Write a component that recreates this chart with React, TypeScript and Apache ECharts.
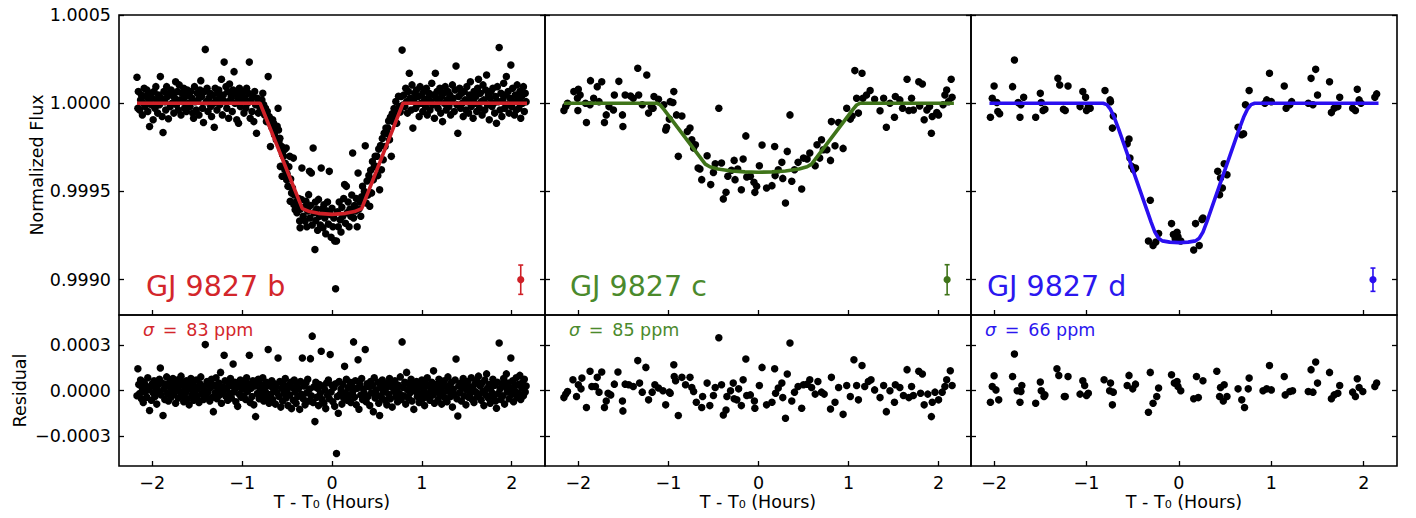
import React, { useEffect, useRef } from 'react';
import * as echarts from 'echarts';

// ---------- data (time in hours from mid-transit, flux / residual offsets in ppm) ----------
const planetNames = ['GJ 9827 b', 'GJ 9827 c', 'GJ 9827 d'];
const sigmaPpm = [83, 85, 66];
const errBarX = [2.1, 2.095, 2.1];
const errBarFlux = 0.999;
const xTicks = [-2, -1, 0, 1, 2];
const fluxTicks = [0.999, 0.9995, 1.0, 1.0005];
const residTicks = [-0.0003, 0, 0.0003];

const bFluxPpm = [
  [-2.17,147],[-2.16,-28],[-2.155,66],[-2.14,-38],[-2.13,19],[-2.12,47],[-2.11,-66],[-2.10,0],[-2.09,85],[-2.08,-19],[-2.07,38],[-2.06,75],[-2.05,-47],[-2.04,9],[-2.03,-132],[-2.02,56],[-2.01,-9],[-2.00,28],[-1.99,-94],[-1.98,66],[-1.97,-28],[-1.96,94],[-1.95,19],[-1.94,-56],[-1.93,47],[-1.92,-9],[-1.91,151],[-1.90,28],[-1.89,-75],[-1.88,-166],[-1.87,66],[-1.86,9],[-1.85,-38],[-1.84,94],[-1.83,38],[-1.82,-88],[-1.81,56],[-1.80,-19],[-1.79,75],[-1.78,0],[-1.77,47],[-1.76,-56],[-1.75,28],[-1.74,122],[-1.73,-9],[-1.72,66],[-1.71,-38],[-1.70,104],[-1.69,19],[-1.68,-66],[-1.67,56],[-1.66,9],[-1.65,85],[-1.64,-28],[-1.63,38],[-1.62,-47],[-1.61,75],[-1.60,0],[-1.59,47],[-1.58,-19],[-1.57,66],[-1.56,28],[-1.55,-56],[-1.54,-85],[-1.53,94],[-1.52,9],[-1.51,-38],[-1.50,56],[-1.49,19],[-1.48,-66],[-1.47,75],[-1.46,128],[-1.45,38],[-1.44,-28],[-1.43,-109],[-1.42,66],[-1.41,305],[-1.40,9],[-1.39,85],[-1.38,-47],[-1.37,28],[-1.36,56],[-1.35,-19],[-1.34,-75],[-1.33,47],[-1.32,0],[-1.31,-136],[-1.30,85],[-1.29,19],[-1.28,-38],[-1.27,56],[-1.26,75],[-1.25,-9],[-1.24,28],[-1.23,136],[-1.22,-66],[-1.21,47],[-1.20,233],[-1.19,9],[-1.18,94],[-1.17,-28],[-1.16,66],[-1.15,-85],[-1.14,109],[-1.13,19],[-1.12,38],[-1.11,-47],[-1.10,75],[-1.09,179],[-1.08,0],[-1.07,56],[-1.06,-94],[-1.05,28],[-1.04,-113],[-1.03,85],[-1.02,-19],[-1.01,47],[-1.00,9],[-0.99,66],[-0.98,-56],[-0.97,28],[-0.96,-28],[-0.95,85],[-0.94,0],[-0.93,56],[-0.92,233],[-0.91,-85],[-0.90,19],[-0.89,-47],[-0.88,38],[-0.87,-104],[-0.86,66],[-0.85,-9],[-0.84,-170],[-0.83,28],[-0.82,-56],[-0.81,9],[-0.80,-28],
  [-0.79,-47],[-0.78,19],[-0.77,56],[-0.76,-9],[-0.75,-66],[-0.74,-28],[-0.73,-104],[-0.72,-47],[-0.71,151],[-0.70,-75],[-0.69,-85],[-0.685,-245],[-0.68,-120],[-0.67,-136],[-0.66,-94],[-0.65,-113],[-0.64,-179],[-0.63,-150],[-0.62,-207],[-0.61,-130],[-0.60,-28],[-0.595,-151],[-0.59,-220],[-0.58,-198],[-0.575,-358],[-0.57,-260],[-0.56,-245],[-0.555,-414],[-0.55,-290],[-0.54,-301],[-0.53,-264],[-0.525,-377],[-0.52,-340],[-0.51,-254],[-0.505,-433],[-0.50,-400],[-0.49,-471],[-0.48,-360],[-0.47,-301],[-0.465,-555],[-0.46,-430],[-0.45,-508],[-0.44,-480],[-0.43,-311],[-0.425,-574],[-0.42,-520],[-0.41,-603],[-0.40,-560],[-0.39,-621],[-0.38,-590],[-0.37,-540],[-0.36,-668],[-0.355,-706],[-0.35,-600],[-0.34,-546],[-0.335,-367],
  [-0.32,-640],[-0.31,-590],[-0.30,-668],[-0.29,-555],[-0.28,-700],[-0.27,-610],[-0.26,-518],[-0.25,-386],[-0.245,-650],[-0.24,-580],[-0.23,-395],[-0.22,-690],[-0.21,-254],[-0.20,-620],[-0.19,-829],[-0.185,-560],[-0.18,-665],[-0.17,-600],[-0.16,-720],[-0.15,-545],[-0.14,-640],[-0.13,-690],[-0.12,-367],[-0.11,-600],[-0.10,-705],[-0.09,-575],[-0.08,-650],[-0.07,-740],[-0.06,-610],[-0.05,-560],[-0.04,-685],[-0.03,-386],[-0.02,-630],[-0.01,-760],[0.00,-595],[0.01,-700],[0.02,-650],[0.03,-780],[0.04,-1051],[0.05,-781],[0.06,-615],[0.07,-700],[0.08,-560],[0.09,-660],[0.10,-730],[0.11,-590],[0.12,-640],[0.13,-540],[0.14,-461],[0.15,-680],[0.16,-471],[0.17,-620],[0.18,-560],[0.19,-700],[0.20,-600],[0.21,-640],[0.22,-520],[0.23,-282],[0.24,-650],[0.25,-580],[0.26,-610],[0.27,-540],[0.28,-700],[0.29,-395],[0.30,-600],[0.31,-560],[0.32,-640],
  [0.33,-530],[0.34,-470],[0.35,-560],[0.36,-500],[0.37,-241],[0.38,-565],[0.39,-440],[0.40,-520],[0.41,-410],[0.42,-584],[0.43,-380],[0.44,-508],[0.45,-330],[0.46,-433],[0.47,-360],[0.48,-301],[0.49,-358],[0.50,-300],[0.51,-410],[0.52,-260],[0.53,-490],[0.54,-240],[0.55,-377],[0.56,-200],[0.57,-320],[0.58,-170],[0.59,-245],[0.60,-140],[0.61,-170],[0.62,-141],[0.63,-100],[0.64,-207],[0.65,-80],[0.66,-301],[0.67,-60],[0.68,-104],[0.69,-30],[0.70,-75],[0.71,10],[0.72,-113],[0.73,-56],[0.74,40],[0.75,-19],[0.76,-50],[0.77,38],[0.78,301],[0.79,-10],
  [0.80,47],[0.81,-19],[0.82,85],[0.83,9],[0.84,-56],[0.85,66],[0.86,170],[0.87,28],[0.88,-38],[0.89,104],[0.90,-141],[0.91,19],[0.92,56],[0.93,-28],[0.94,75],[0.95,-9],[0.96,38],[0.97,-75],[0.98,94],[0.99,0],[1.00,47],[1.01,-47],[1.02,66],[1.03,19],[1.04,-19],[1.05,85],[1.06,-66],[1.07,28],[1.08,56],[1.09,-38],[1.10,9],[1.11,113],[1.12,-9],[1.13,47],[1.14,-85],[1.15,170],[1.16,28],[1.17,66],[1.18,-28],[1.19,9],[1.20,85],[1.21,-56],[1.22,38],[1.23,-104],[1.24,56],[1.25,0],[1.26,94],[1.27,-38],[1.28,19],[1.29,66],[1.30,-19],[1.31,47],[1.32,-66],[1.33,9],[1.34,104],[1.35,28],[1.36,-47],[1.37,75],[1.38,211],[1.39,-9],[1.40,-170],[1.41,38],[1.42,85],[1.43,-28],[1.44,56],[1.45,0],[1.46,-75],[1.47,66],[1.48,19],[1.49,-38],[1.50,94],[1.51,9],[1.52,-56],[1.53,47],[1.54,122],[1.55,-19],[1.56,28],[1.57,-85],[1.58,66],[1.59,0],[1.60,38],[1.61,-47],[1.62,85],[1.63,136],[1.64,-28],[1.65,56],[1.66,9],[1.67,-66],[1.68,104],[1.69,19],[1.70,-38],[1.71,75],[1.72,160],[1.73,-9],[1.74,47],[1.75,-94],[1.76,28],[1.77,66],[1.78,-19],[1.79,85],[1.80,0],[1.81,-56],[1.82,38],[1.83,-113],[1.84,94],[1.85,9],[1.86,316],[1.87,-38],[1.88,56],[1.89,-75],[1.90,19],[1.91,113],[1.92,-28],[1.93,47],[1.94,151],[1.95,-9],[1.96,66],[1.97,-56],[1.98,28],[1.99,217],[2.00,-19],[2.01,85],[2.02,9],[2.03,-66],[2.04,47],[2.05,-38],[2.06,104],[2.07,19],[2.08,-28],[2.09,66],[2.10,-85],[2.11,38],[2.12,0],[2.13,94],[2.14,-47],[2.15,56],[2.16,9]
];

const bResidPpm = [
  [-2.17,-35],[-2.16,144],[-2.15,40],[-2.14,-20],[-2.13,70],[-2.12,-55],[-2.11,15],[-2.10,-80],[-2.09,55],[-2.08,-10],[-2.07,30],[-2.06,-45],[-2.05,85],[-2.04,5],[-2.03,-133],[-2.02,25],[-2.01,-65],[-2.00,45],[-1.99,-15],[-1.98,65],[-1.97,-40],[-1.96,20],[-1.95,-90],[-1.94,35],[-1.93,-5],[-1.92,75],[-1.91,149],[-1.90,-30],[-1.89,50],[-1.88,-166],[-1.87,10],[-1.86,-60],[-1.85,40],[-1.84,90],[-1.83,-20],[-1.82,-70],[-1.81,25],[-1.80,60],[-1.79,-45],[-1.78,5],[-1.77,80],[-1.76,-25],[-1.75,45],[-1.74,-85],[-1.73,15],[-1.72,70],[-1.71,-50],[-1.70,30],[-1.69,-10],[-1.68,95],[-1.67,-35],[-1.66,55],[-1.65,-75],[-1.64,20],[-1.63,-15],[-1.62,65],[-1.61,-55],[-1.60,35],[-1.59,-95],[-1.58,10],[-1.57,80],[-1.56,-30],[-1.55,50],[-1.54,-65],[-1.53,25],[-1.52,-5],[-1.51,70],[-1.50,-40],[-1.49,15],[-1.48,-80],[-1.47,45],[-1.46,90],[-1.45,-20],[-1.44,30],[-1.43,-60],[-1.42,5],[-1.41,304],[-1.40,-35],[-1.39,60],[-1.38,-10],[-1.37,40],[-1.36,-70],[-1.35,20],[-1.34,75],[-1.33,-45],[-1.32,-140],[-1.31,35],[-1.30,-15],[-1.29,85],[-1.28,-55],[-1.27,10],[-1.26,50],[-1.25,-30],[-1.24,120],[-1.23,-85],[-1.22,25],[-1.21,-5],[-1.20,233],[-1.19,65],[-1.18,-40],[-1.17,15],[-1.16,-65],[-1.15,45],[-1.14,-20],[-1.13,80],[-1.12,-50],[-1.11,30],[-1.10,175],[-1.09,-10],[-1.08,55],[-1.07,-75],[-1.06,20],[-1.05,-105],[-1.04,40],[-1.03,-25],[-1.02,70],[-1.01,-45],[-1.00,10],[-0.99,60],[-0.98,-35],[-0.97,25],[-0.96,-60],[-0.95,85],[-0.94,-5],[-0.93,45],[-0.92,233],[-0.91,-80],[-0.90,15],[-0.89,-40],[-0.88,65],[-0.87,-95],[-0.86,30],[-0.85,-173],[-0.84,50],[-0.83,-20],[-0.82,75],[-0.81,-55],[-0.80,5],[-0.79,40],[-0.78,-30],[-0.77,85],[-0.76,-70],[-0.75,20],[-0.74,-10],[-0.73,55],[-0.72,-45],[-0.71,271],[-0.70,-85],[-0.69,30],[-0.68,-25],[-0.67,65],[-0.66,-60],[-0.65,10],[-0.64,45],[-0.63,-90],[-0.62,25],[-0.61,-15],[-0.60,215],[-0.59,-40],[-0.58,60],[-0.57,-110],[-0.56,15],[-0.55,-70],[-0.54,40],[-0.53,-20],[-0.52,80],[-0.51,-50],[-0.50,5],[-0.49,-100],[-0.48,35],[-0.47,-30],[-0.46,55],[-0.45,-120],[-0.44,20],[-0.43,-65],[-0.42,70],[-0.41,-10],[-0.40,-85],[-0.39,45],[-0.38,-40],[-0.37,15],[-0.36,-125],[-0.35,60],[-0.34,-25],[-0.33,215],[-0.32,-55],[-0.31,30],[-0.30,-95],[-0.29,50],[-0.28,-15],[-0.27,75],[-0.26,-70],[-0.25,10],[-0.24,211],[-0.23,-35],[-0.22,360],[-0.21,-80],[-0.20,25],[-0.19,-206],[-0.18,55],[-0.17,-45],[-0.16,15],[-0.15,-100],[-0.14,40],[-0.13,-20],[-0.12,260],[-0.11,-60],[-0.10,30],[-0.09,-85],[-0.08,5],[-0.07,-120],[-0.06,50],[-0.05,-30],[-0.04,70],[-0.03,-55],[-0.02,238],[-0.01,-10],[0.00,35],[0.01,-75],[0.02,20],[0.03,-105],[0.04,45],[0.05,-417],[0.06,-40],[0.07,-151],[0.08,60],[0.09,-25],[0.10,10],[0.11,-90],[0.12,40],[0.13,-50],[0.14,160],[0.15,-15],[0.16,75],[0.17,-65],[0.18,20],[0.19,-35],[0.20,55],[0.21,-80],[0.22,30],[0.23,-10],[0.24,322],[0.25,-45],[0.26,65],[0.27,-95],[0.28,15],[0.29,204],[0.30,-124],[0.31,40],[0.32,-30],[0.33,80],[0.34,-60],[0.35,10],[0.36,-20],[0.37,271],[0.38,-75],[0.39,45],[0.40,-40],[0.41,25],[0.42,-100],[0.43,60],[0.44,-15],[0.45,35],[0.46,-140],[0.47,85],[0.48,-50],[0.49,5],[0.50,-30],[0.51,55],[0.52,-85],[0.53,-166],[0.54,20],[0.55,-45],[0.56,70],[0.57,-10],[0.58,40],[0.59,-65],[0.60,15],[0.61,-95],[0.62,50],[0.63,-25],[0.64,80],[0.65,-55],[0.66,25],[0.67,-110],[0.68,45],[0.69,-5],[0.70,65],[0.71,-40],[0.72,10],[0.73,-75],[0.74,35],[0.75,-20],[0.76,90],[0.77,-60],[0.78,322],[0.79,20],[0.80,-35],[0.81,55],[0.82,-90],[0.83,120],[0.84,5],[0.85,-50],[0.86,40],[0.87,-15],[0.88,75],[0.89,-70],[0.90,25],[0.91,-125],[0.92,45],[0.93,-5],[0.94,60],[0.95,-40],[0.96,15],[0.97,-80],[0.98,35],[0.99,-25],[1.00,70],[1.01,-55],[1.02,10],[1.03,-100],[1.04,50],[1.05,-20],[1.06,85],[1.07,-45],[1.08,30],[1.09,-65],[1.10,5],[1.11,55],[1.12,-30],[1.13,130],[1.14,-85],[1.15,20],[1.16,40],[1.17,-10],[1.18,-60],[1.19,75],[1.20,-35],[1.21,15],[1.22,-90],[1.23,45],[1.24,-15],[1.25,65],[1.26,-50],[1.27,25],[1.28,-75],[1.29,90],[1.30,-5],[1.31,35],[1.32,-40],[1.33,55],[1.34,-110],[1.35,10],[1.36,-25],[1.37,70],[1.38,209],[1.39,-55],[1.40,-169],[1.41,30],[1.42,-15],[1.43,50],[1.44,-70],[1.45,15],[1.46,80],[1.47,-35],[1.48,40],[1.49,-95],[1.50,5],[1.51,60],[1.52,-45],[1.53,25],[1.54,-20],[1.55,85],[1.56,-60],[1.57,10],[1.58,-80],[1.59,45],[1.60,-10],[1.61,65],[1.62,-40],[1.63,95],[1.64,-25],[1.65,30],[1.66,-65],[1.67,50],[1.68,-5],[1.69,-100],[1.70,70],[1.71,-30],[1.72,110],[1.73,15],[1.74,-50],[1.75,40],[1.76,-85],[1.77,20],[1.78,-15],[1.79,75],[1.80,-45],[1.81,35],[1.82,-70],[1.83,-118],[1.84,55],[1.85,-20],[1.86,315],[1.87,10],[1.88,-60],[1.89,45],[1.90,-35],[1.91,80],[1.92,-90],[1.93,25],[1.94,110],[1.95,-10],[1.96,50],[1.97,-55],[1.98,15],[1.99,215],[2.00,-25],[2.01,65],[2.02,-75],[2.03,30],[2.04,-5],[2.05,85],[2.06,-45],[2.07,40],[2.08,-20],[2.09,100],[2.10,-60],[2.11,20],[2.12,55],[2.13,-35],[2.14,75],[2.15,-10],[2.16,30]
];

const cFluxPpm = [
  [-2.16,-41],[-2.14,-19],[-2.12,0],[-2.05,66],[-2.0,79],[-2.01,28],[-2.005,-41],[-1.98,47],[-1.92,0],[-1.91,-109],[-1.87,-9],[-1.865,128],[-1.83,28],[-1.79,94],[-1.77,9],[-1.74,122],[-1.71,-109],[-1.69,-66],[-1.66,-19],[-1.61,-38],[-1.60,47],[-1.55,124],[-1.51,-66],[-1.505,-132],[-1.48,47],[-1.42,41],[-1.39,28],[-1.34,198],[-1.33,47],[-1.29,-9],[-1.24,160],[-1.22,-56],[-1.19,-19],[-1.17,-28],[-1.16,38],[-1.11,23],
  [-1.05,-9],[-1.02,-136],[-1.03,-151],[-0.98,9],[-0.99,-90],[-0.94,66],[-0.95,4],[-0.91,-66],[-0.89,-301],[-0.85,-72],[-0.79,-160],[-0.76,-141],[-0.74,-207],[-0.72,-254],[-0.70,-235],[-0.67,-367],[-0.65,-373],[-0.63,-433],[-0.57,-298],[-0.53,-461],[-0.50,-392],[-0.48,-343],
  [-0.44,-28],[-0.41,-339],[-0.39,-542],[-0.36,-505],[-0.34,-414],[-0.30,-380],[-0.27,-324],[-0.26,-433],[-0.23,-373],[-0.19,-490],[-0.17,-316],[-0.14,-185],[-0.13,-418],[-0.09,-414],[-0.05,-448],[-0.04,-505],[-0.02,-471],[0.01,-354],[0.04,-237],[0.09,-480],[0.15,-467],[0.18,-245],[0.185,-410],[0.22,-377],[0.26,-335],[0.27,-426],[0.30,-565],[0.32,-273],[0.35,-66],[0.37,-442],[0.40,-377],[0.44,-335],[0.48,-486],[0.50,-311],[0.54,-316],[0.57,-282],[0.63,-354],
  [0.65,-235],[0.68,-311],[0.70,-207],[0.72,-264],[0.76,-264],[0.80,-324],[0.81,-104],[0.85,-241],[0.89,-109],[0.94,-256],[0.98,-28],[1.02,-90],[1.04,-72],[1.07,185],[1.09,28],[1.11,-56],
  [1.15,170],[1.16,28],[1.20,47],[1.24,72],[1.29,23],[1.35,-43],[1.39,28],[1.42,-136],[1.46,0],[1.51,-79],[1.52,38],[1.57,19],[1.60,-28],[1.65,136],[1.67,-41],[1.70,28],[1.72,-38],[1.78,122],[1.82,109],[1.84,-94],[1.79,-15],[1.87,-38],[1.90,-19],[1.92,-170],[1.93,-75],[1.98,-53],[2.00,-66],[2.05,-9],[2.07,47],[2.09,75],[2.11,9],[2.14,136],[2.15,34]
];

const cResidPpm = [
  [-2.16,-47],[-2.14,-24],[-2.12,-7],[-2.06,71],[-2.02,-40],[-2.0,38],[-1.97,11],[-1.96,82],[-1.91,-113],[-1.87,127],[-1.85,27],[-1.81,27],[-1.79,87],[-1.77,-11],[-1.74,122],[-1.71,-113],[-1.69,-69],[-1.67,-18],[-1.64,-29],[-1.60,42],[-1.56,122],[-1.51,-69],[-1.505,-135],[-1.48,42],[-1.44,38],[-1.39,27],[-1.34,198],[-1.32,49],[-1.29,-11],[-1.25,153],[-1.22,-62],[-1.18,-11],[-1.15,38],[-1.11,16],[-1.06,-2],[-1.03,-95],[-0.99,-11],[-0.98,-18],[-0.94,171],[-0.935,93],[-0.92,64],[-0.89,-166],[-0.85,87],[-0.81,38],[-0.76,87],[-0.74,20],[-0.72,-7],[-0.69,-78],[-0.63,-113],[-0.62,-40],[-0.57,49],[-0.54,-100],[-0.50,-33],[-0.48,20],[-0.44,349],[-0.41,38],[-0.39,-162],[-0.36,-129],[-0.35,-40],[-0.31,-2],[-0.28,49],[-0.27,-55],[-0.24,-62],[-0.22,11],[-0.19,-100],[-0.17,71],[-0.14,209],[-0.13,-33],[-0.09,-29],[-0.045,-69],[-0.04,-118],[0.01,33],[0.04,153],[0.09,-95],[0.15,-78],[0.18,144],[0.19,-18],[0.22,16],[0.26,49],[0.27,-47],[0.30,-184],[0.32,109],[0.35,315],[0.37,-69],[0.40,-11],[0.44,27],[0.48,-118],[0.50,38],[0.54,42],[0.57,71],[0.59,20],[0.63,-24],[0.66,60],[0.70,-11],[0.73,-24],[0.80,-122],[0.81,87],[0.85,-78],[0.89,20],[0.94,-158],[0.98,33],[1.02,-40],[1.06,204],[1.09,33],[1.11,-62],[1.15,166],[1.18,27],[1.22,60],[1.25,71],[1.29,4],[1.35,-47],[1.39,33],[1.42,-140],[1.46,-2],[1.51,-78],[1.52,38],[1.57,20],[1.61,-33],[1.65,138],[1.67,-47],[1.70,27],[1.72,-33],[1.78,127],[1.82,109],[1.80,-18],[1.84,-95],[1.88,-24],[1.92,-173],[1.93,-78],[1.96,-11],[2.00,-62],[2.04,-11],[2.07,27],[2.09,71],[2.13,131],[2.15,33]
];

const dFluxPpm = [
  [-2.04,-79],[-2.02,28],[-2.00,98],[-1.97,4],[-1.96,-47],[-1.94,-60],[-1.80,94],[-1.78,245],[-1.74,4],[-1.72,-79],[-1.71,-9],[-1.68,34],[-1.55,-79],[-1.50,56],[-1.49,4],[-1.47,-41],[-1.45,-34],[-1.31,141],[-1.29,104],[-1.25,-34],[-1.23,-41],[-1.20,98],[-1.07,-19],[-1.04,66],[-1.01,34],[-1.00,-41],[-0.98,-19],[-0.96,-28],[-0.80,72],[-0.745,19],[-0.74,9],[-0.71,-72],[-0.72,-141],[-0.56,-230],[-0.54,-203],[-0.53,-311],[-0.51,-358],[-0.49,-377],[-0.47,-367],[-0.31,-550],[-0.33,-781],[-0.28,-806],[-0.25,-787],[-0.22,-738],[-0.08,-682],[-0.06,-744],[-0.02,-731],[-0.01,-757],[0.02,-781],[-0.04,-768],[0.16,-832],[0.22,-806],[0.18,-682],[0.25,-659],[0.26,-650],[0.42,-386],[0.44,-518],[0.45,-424],[0.47,-480],[0.49,-343],[0.52,-405],[0.64,-136],[0.68,-179],[0.70,-173],[0.72,-9],[0.76,72],[0.93,0],[0.95,19],[0.98,170],[1.00,9],[1.14,98],[1.16,-28],[1.20,-9],[1.22,9],[1.40,0],[1.43,141],[1.45,-9],[1.48,192],[1.50,47],[1.63,122],[1.65,-53],[1.68,-28],[1.72,-19],[1.74,34],[1.88,-28],[1.91,-41],[1.93,79],[1.95,19],[1.97,0],[2.12,34],[2.14,53]
];

const dResidPpm = [
  [-2.04,-78],[-2.02,27],[-2.00,98],[-1.98,4],[-1.95,-62],[-1.80,93],[-1.78,242],[-1.75,-2],[-1.72,-78],[-1.71,-7],[-1.70,33],[-1.55,-84],[-1.50,56],[-1.49,-2],[-1.46,-40],[-1.45,-29],[-1.32,144],[-1.30,100],[-1.24,-40],[-1.23,-40],[-1.20,93],[-1.07,-24],[-1.04,64],[-1.02,33],[-1.00,-33],[-0.98,-18],[-0.81,71],[-0.74,49],[-0.75,-2],[-0.71,-11],[-0.72,-95],[-0.56,33],[-0.54,100],[-0.50,11],[-0.47,42],[-0.33,-144],[-0.31,120],[-0.28,-84],[-0.24,-40],[-0.22,16],[-0.08,104],[-0.05,49],[-0.02,60],[-0.01,27],[0.02,-2],[0.16,-55],[0.21,-47],[0.19,93],[0.26,64],[0.41,127],[0.44,-40],[0.45,20],[0.48,-69],[0.49,38],[0.52,-40],[0.64,11],[0.68,-62],[0.71,-113],[0.75,11],[0.76,82],[0.91,-2],[0.95,11],[0.98,166],[1.00,4],[1.14,93],[1.15,-29],[1.20,-7],[1.23,-2],[1.40,-7],[1.43,138],[1.45,-11],[1.48,189],[1.50,49],[1.63,120],[1.65,-55],[1.68,-29],[1.72,-18],[1.74,33],[1.88,-11],[1.91,-40],[1.93,78],[1.95,20],[1.99,-7],[2.12,27],[2.14,49]
];

const bModelPpm = [[-2.17,0],[-0.80,0],[-0.33,-597],[-0.25,-614],[-0.15,-624],[0,-630],[0.15,-624],[0.25,-614],[0.33,-597],[0.79,0],[2.17,0]];
const cModelPpm = [[-2.16,0],[-1.13,0],[-1.09,-10],[-1.05,-35],[-0.59,-345],[-0.54,-360],[-0.45,-373],[-0.30,-384],[-0.15,-389],[0,-391],[0.15,-389],[0.30,-384],[0.45,-373],[0.54,-360],[0.59,-345],[1.05,-35],[1.09,-10],[1.13,0],[2.17,0]];
const dModelPpm = [[-2.05,0],[-0.82,0],[-0.78,-8],[-0.74,-35],[-0.70,-80],[-0.65,-150],[-0.55,-300],[-0.45,-450],[-0.35,-600],[-0.30,-675],[-0.26,-730],[-0.22,-765],[-0.18,-780],[-0.10,-787],[0,-790],[0.10,-787],[0.18,-780],[0.22,-765],[0.26,-730],[0.30,-675],[0.35,-600],[0.45,-450],[0.55,-300],[0.65,-150],[0.70,-80],[0.74,-35],[0.78,-8],[0.82,0],[2.16,0]];

// ---------- styling / layout ----------
const textColors = ['#d3262b', '#4b8a2c', '#2b17ef'];
const lineColors = ['#cf2027', '#3f7419', '#2a0ff0'];
const xRanges = [[-2.37, 2.37], [-2.37, 2.36], [-2.25, 2.36]];
const panelLeft = [119, 545, 971];
const panelWidth = 426;
const FONT = 'DejaVu Sans';

const toFlux = (arr: number[][]) => arr.map(([t, p]) => [t, 1 + p * 1e-6]);
const toResid = (arr: number[][]) => arr.map(([t, p]) => [t, p * 1e-6]);
const minus = (s: string) => s.replace('-', '\u2212');

export default function App() {
  const ref = useRef<HTMLDivElement>(null);
  useEffect(() => {
    const chart = echarts.init(ref.current!, null, { renderer: 'svg' });
    const fluxSets = [bFluxPpm, cFluxPpm, dFluxPpm];
    const residSets = [bResidPpm, cResidPpm, dResidPpm];
    const modelSets = [bModelPpm, cModelPpm, dModelPpm];

    const grid: any[] = [];
    const xAxis: any[] = [];
    const yAxis: any[] = [];
    const series: any[] = [];
    const graphic: any[] = [];

    const tickStyle = { color: '#000', width: 1.3 };

    for (let i = 0; i < 3; i++) {
      const rows = [
        { top: 15, height: 300, res: false },
        { top: 315, height: 151, res: true },
      ];
      rows.forEach((r) => {
        const g = grid.length;
        grid.push({
          left: panelLeft[i], top: r.top, width: panelWidth, height: r.height,
          show: true, borderColor: '#000', borderWidth: 1.6, backgroundColor: 'transparent',
          containLabel: false,
        });
        xAxis.push({
          type: 'value', gridIndex: g, min: xRanges[i][0], max: xRanges[i][1], position: 'bottom',
          axisLine: { show: false, onZero: false },
          axisTick: { show: true, inside: true, length: 5, customValues: xTicks, lineStyle: tickStyle },
          axisLabel: {
            show: r.res, customValues: xTicks, margin: 8, color: '#000', fontSize: 17.5, fontFamily: FONT,
            formatter: (v: number) => minus(String(v)),
          },
          splitLine: { show: false },
          name: r.res ? 'T - T\u2080 (Hours)' : '',
          nameLocation: 'middle', nameGap: 22,
          nameTextStyle: { color: '#000', fontSize: 17.5, fontFamily: FONT },
        });
        const yMin = r.res ? -0.0005 : 0.9988;
        const yMax = r.res ? 0.0005 : 1.0005;
        const ticks = r.res ? residTicks : fluxTicks;
        const fmt = (v: number) => {
          if (r.res) {
            if (Math.abs(v) < 1e-12) return '0.0000';
            return minus(v.toFixed(4));
          }
          return v.toFixed(4);
        };
        ['left', 'right'].forEach((pos) => {
          const showLabel = pos === 'left' && i === 0;
          yAxis.push({
            type: 'value', gridIndex: g, min: yMin, max: yMax, position: pos,
            axisLine: { show: false, onZero: false },
            axisTick: { show: true, inside: true, length: 5, customValues: ticks, lineStyle: tickStyle },
            axisLabel: {
              show: showLabel, customValues: ticks, margin: 8, color: '#000', fontSize: 17.5, fontFamily: FONT,
              formatter: fmt,
            },
            splitLine: { show: false },
            name: showLabel ? (r.res ? 'Residual' : 'Normalized Flux') : '',
            nameLocation: 'middle', nameRotate: 90, nameGap: r.res ? 90 : 73,
            nameTextStyle: { color: '#000', fontSize: 17.5, fontFamily: FONT },
          });
        });
      });

      const gTop = 2 * i, gRes = 2 * i + 1;
      series.push({
        type: 'scatter', xAxisIndex: gTop, yAxisIndex: 2 * gTop, data: toFlux(fluxSets[i]),
        symbolSize: 7.5, itemStyle: { color: '#000', opacity: 1 }, z: 3, silent: true,
      });
      series.push({
        type: 'line', xAxisIndex: gTop, yAxisIndex: 2 * gTop, data: toFlux(modelSets[i]),
        showSymbol: false, lineStyle: { color: lineColors[i], width: 3.6 }, z: 4, silent: true,
      });
      const col = lineColors[i];
      series.push({
        type: 'custom', xAxisIndex: gTop, yAxisIndex: 2 * gTop,
        data: [[errBarX[i], errBarFlux, sigmaPpm[i] * 1e-6]], z: 5, silent: true,
        encode: { x: 0, y: 1 },
        renderItem: (params: any, api: any) => {
          const x = api.value(0), y = api.value(1), e = api.value(2);
          const c = api.coord([x, y]);
          const hi = api.coord([x, y + e]);
          const lo = api.coord([x, y - e]);
          return {
            type: 'group',
            children: [
              { type: 'line', shape: { x1: c[0], y1: hi[1], x2: c[0], y2: lo[1] }, style: { stroke: col, lineWidth: 1.6 } },
              { type: 'line', shape: { x1: c[0] - 2.5, y1: hi[1], x2: c[0] + 2.5, y2: hi[1] }, style: { stroke: col, lineWidth: 1.6 } },
              { type: 'line', shape: { x1: c[0] - 2.5, y1: lo[1], x2: c[0] + 2.5, y2: lo[1] }, style: { stroke: col, lineWidth: 1.6 } },
              { type: 'circle', shape: { cx: c[0], cy: c[1], r: 3.6 }, style: { fill: col } },
            ],
          };
        },
      });
      series.push({
        type: 'scatter', xAxisIndex: gRes, yAxisIndex: 2 * gRes, data: toResid(residSets[i]),
        symbolSize: 7.5, itemStyle: { color: '#000', opacity: 1 }, z: 3, silent: true,
      });

      const nameX = [146, 570, 987][i];
      const sigX = [143, 569, 985][i];
      graphic.push({
        type: 'text', left: nameX, top: 272, z: 10,
        style: { text: planetNames[i], fill: textColors[i], fontSize: 28.5, fontFamily: FONT },
      });
      graphic.push({
        type: 'text', left: sigX, top: 321, z: 10,
        style: {
          text: '{i|\u03c3}\u2002=\u2002' + sigmaPpm[i] + ' ppm',
          fill: textColors[i], fontSize: 17.5, fontFamily: FONT,
          rich: { i: { fontStyle: 'italic', fontSize: 17.5, fontFamily: FONT, fill: textColors[i] } },
        },
      });
    }

    chart.setOption({
      animation: false,
      backgroundColor: '#fff',
      textStyle: { fontFamily: FONT },
      grid, xAxis, yAxis, series, graphic,
    });
    return () => chart.dispose();
  }, []);
  return <div ref={ref} style={{ position: 'absolute', left: 0, top: 0, width: 1416, height: 518 }} />;
}
